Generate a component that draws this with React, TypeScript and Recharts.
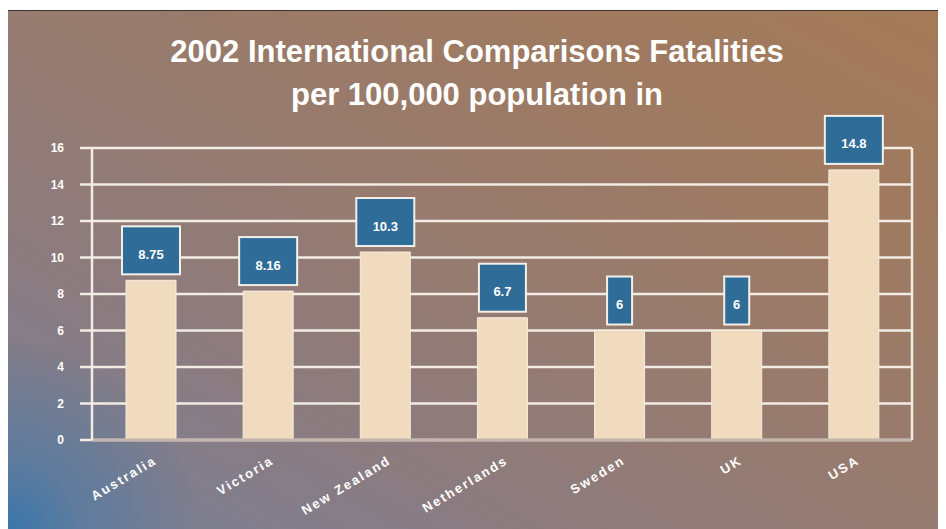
import React from "react";
import { BarChart, Bar, XAxis, YAxis, CartesianGrid, LabelList } from "recharts";

const countries = ["Australia", "Victoria", "New Zealand", "Netherlands", "Sweden", "UK", "USA"];
const fatalities = [8.75, 8.16, 10.3, 6.7, 6, 6, 14.8];
const yTicks = [0, 2, 4, 6, 8, 10, 12, 14, 16];
const titleLines = ["2002 International Comparisons Fatalities", "per 100,000 population in"];

const data = countries.map((c, i) => ({ country: c, value: fatalities[i] }));

const FONT = "'Liberation Sans', Arial, sans-serif";

const ValueBox = (props: any) => {
  const { x, y, width, value } = props;
  const s = String(value);
  const w = 14 + s.length * 11;
  const h = 48;
  const cx = x + width / 2;
  const top = y - 6 - h;
  return (
    <g>
      <rect x={cx - w / 2} y={top} width={w} height={h} fill="#2f6c98" stroke="#f3efe9" strokeWidth={2} />
      <text
        x={cx}
        y={top + h / 2 + 4}
        textAnchor="middle"
        dominantBaseline="central"
        fill="#ffffff"
        fontFamily={FONT}
        fontWeight="bold"
        fontSize={13}
      >
        {s}
      </text>
    </g>
  );
};

const XTick = (props: any) => {
  const { x, y, payload } = props;
  return (
    <g transform={`translate(${x + 7},${y + 15}) rotate(-31)`}>
      <text
        x={0}
        y={0}
        textAnchor="end"
        fill="#ffffff"
        fontFamily={FONT}
        fontWeight="bold"
        fontSize={13}
        letterSpacing={2}
      >
        {payload.value}
      </text>
    </g>
  );
};

export default function App() {
  return (
    <div style={{ position: "relative", width: 938, height: 521 }}>
      <div
        style={{
          position: "absolute",
          left: -1,
          top: 2,
          right: 0,
          bottom: 0,
          borderTop: "1px solid #3a3430",
          borderLeft: "1px solid #3a3430",
          background:
            "radial-gradient(circle at 0% 100%, rgba(55,118,172,0.95) 0px, rgba(70,120,165,0.55) 70px, rgba(110,125,150,0) 190px), linear-gradient(to top right, #76809a 0%, #8c7b7e 28%, #967b70 50%, #9d7a63 72%, #a47a57 100%)",
        }}
      />
      <div
        style={{
          position: "absolute",
          left: 0,
          top: 22,
          width: 938,
          textAlign: "center",
          color: "#ffffff",
          fontFamily: FONT,
          fontWeight: "bold",
          fontSize: 31,
          lineHeight: "43px",
        }}
      >
        <div>{titleLines[0]}</div>
        <div>{titleLines[1]}</div>
      </div>
      <div style={{ position: "absolute", left: 0, top: 0 }}>
        <BarChart
          width={938}
          height={521}
          data={data}
          margin={{ top: 140, right: 33, bottom: 9, left: 24 }}
          barSize={50}
        >
          <CartesianGrid horizontal vertical={false} stroke="#f2ece4" strokeWidth={2.5} yAxisId="left" />
          <XAxis
            dataKey="country"
            height={80}
            tick={<XTick />}
            tickLine={false}
            axisLine={{ stroke: "#c4b6ac", strokeWidth: 3 }}
            interval={0}
          />
          <YAxis
            yAxisId="left"
            width={60}
            domain={[0, 16]}
            ticks={yTicks}
            interval={0}
            tickSize={12}
            tickMargin={16}
            tickLine={{ stroke: "#f2ece4", strokeWidth: 2.5 }}
            axisLine={{ stroke: "#f2ece4", strokeWidth: 2.5 }}
            tick={{ fill: "#ffffff", fontSize: 12, fontWeight: "bold", fontFamily: FONT }}
          />
          <YAxis
            yAxisId="right"
            orientation="right"
            width={1}
            domain={[0, 16]}
            ticks={yTicks}
            tick={false}
            tickLine={false}
            axisLine={{ stroke: "#f2ece4", strokeWidth: 2.5 }}
          />
          <Bar
            yAxisId="left"
            dataKey="value"
            fill="#f0dbbf"
            stroke="#f6ece0"
            strokeWidth={1}
            isAnimationActive={false}
          >
            <LabelList dataKey="value" content={<ValueBox />} />
          </Bar>
        </BarChart>
      </div>
    </div>
  );
}
